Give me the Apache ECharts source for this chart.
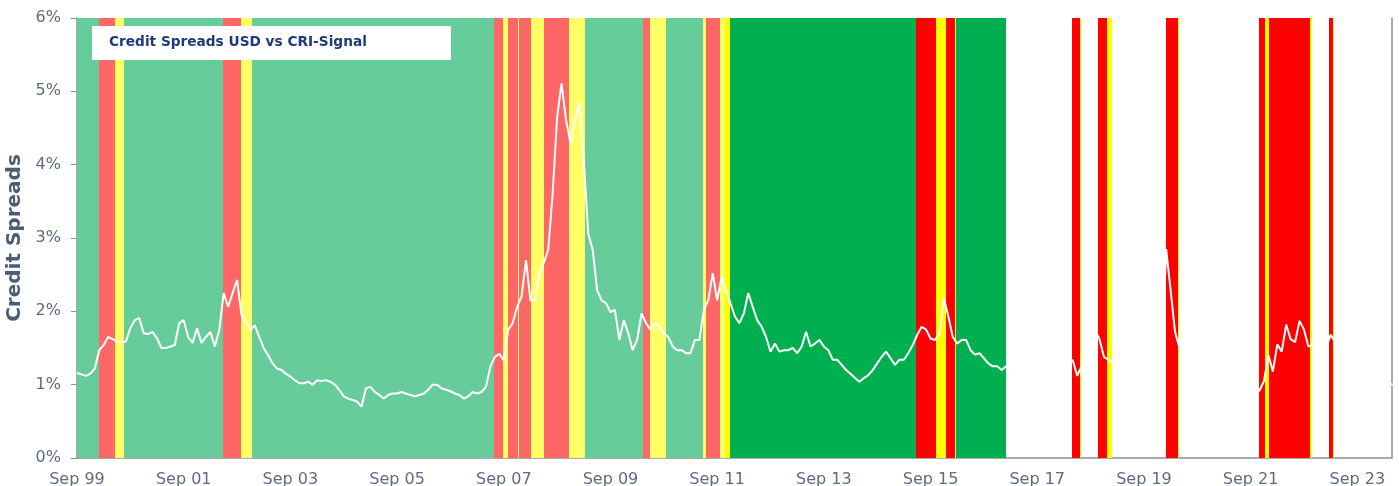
<!DOCTYPE html>
<html>
<head>
<meta charset="utf-8">
<script src="https://cdn.jsdelivr.net/npm/echarts@6/dist/echarts.min.js"></script>
<style>
html,body{margin:0;padding:0;background:#fff;}
#chart{width:1399px;height:486px;}
</style>
</head>
<body>
<div id="chart"></div>
<script>
// ---- data ----
const chartTitle = 'Credit Spreads USD vs CRI-Signal';
const yAxisTitle = 'Credit Spreads';
const axisStart = '1999-09-01';
const axisEnd = '2024-04-25';
const tickLabels = ['Sep 99','Sep 01','Sep 03','Sep 05','Sep 07','Sep 09','Sep 11','Sep 13','Sep 15','Sep 17','Sep 19','Sep 21','Sep 23'];
const yTickLabels = ['0%','1%','2%','3%','4%','5%','6%'];

// monthly credit spread (%) starting Sep 1999
const spreadStartMonth = '1999-09';
const spreadMonthly = [
1.16,1.14,1.12,1.15,1.22,1.47,1.54,1.65,1.62,1.59,1.57,1.59,
1.77,1.88,1.91,1.70,1.69,1.72,1.63,1.50,1.50,1.52,1.54,1.84,
1.88,1.65,1.57,1.77,1.57,1.65,1.72,1.52,1.75,2.25,2.06,2.25,
2.43,1.95,1.86,1.75,1.81,1.65,1.50,1.40,1.29,1.22,1.20,1.15,
1.11,1.06,1.02,1.02,1.04,1.00,1.06,1.05,1.06,1.04,1.00,0.93,
0.84,0.81,0.79,0.77,0.70,0.95,0.97,0.90,0.86,0.81,0.86,0.88,
0.88,0.90,0.88,0.86,0.84,0.86,0.88,0.93,1.00,1.00,0.95,0.93,
0.91,0.88,0.86,0.81,0.84,0.90,0.88,0.90,0.97,1.25,1.38,1.42,
1.33,1.75,1.84,2.06,2.20,2.70,2.15,2.15,2.52,2.66,2.84,3.61,
4.65,5.11,4.61,4.29,4.61,4.84,4.06,3.06,2.84,2.29,2.15,2.11,
1.99,2.02,1.61,1.88,1.70,1.47,1.61,1.97,1.84,1.75,1.84,1.79,
1.70,1.65,1.52,1.47,1.47,1.43,1.43,1.61,1.61,2.02,2.15,2.52,
2.15,2.47,2.29,2.11,1.93,1.84,1.97,2.25,2.06,1.88,1.79,1.65,
1.45,1.56,1.45,1.47,1.47,1.50,1.43,1.52,1.72,1.52,1.56,1.61,
1.52,1.47,1.34,1.34,1.27,1.20,1.15,1.09,1.04,1.09,1.13,1.20,
1.29,1.38,1.45,1.36,1.27,1.34,1.34,1.43,1.54,1.68,1.79,1.75,
1.63,1.61,1.70,2.18,1.93,1.65,1.56,1.61,1.61,1.47,1.41,1.43,
1.36,1.29,1.25,1.25,1.20,1.25,1.22,1.18,1.15,1.12,1.10,1.08,
1.06,1.05,1.08,1.10,1.15,1.22,1.30,1.35,1.33,1.12,1.26,1.30,
1.45,1.75,1.62,1.38,1.34,1.30,1.25,1.22,1.20,1.22,1.18,1.15,
1.15,1.12,1.10,1.10,1.30,2.85,2.29,1.72,1.50,1.45,1.40,1.35,
1.30,1.25,1.20,1.15,1.10,1.05,1.00,0.98,0.96,0.94,0.92,0.90,
0.90,0.90,0.92,1.05,1.40,1.18,1.55,1.45,1.82,1.62,1.58,1.87,
1.75,1.52,1.55,1.52,1.50,1.52,1.68,1.58,1.50,1.40,1.30,1.25,
1.20,1.15,1.12,1.10,1.08,1.06,1.04,1.02,1.00
];

// CRI signal: change dates and signal from that date on (G green, R red, Y yellow, N none)
const signalDates = [
'1999-09-01','2000-01-29','2000-05-18','2000-07-21','2002-05-29','2002-09-27','2002-12-10',
'2007-06-25','2007-08-27','2007-09-27','2007-12-08','2007-12-13','2008-03-05','2008-06-04',
'2008-11-20','2009-03-06','2010-04-08','2010-05-28','2010-09-15','2011-05-24','2011-06-16',
'2011-09-20','2011-10-24','2011-11-27','2015-05-21','2015-10-07','2015-12-14','2016-02-14',
'2016-02-21','2017-01-29','2018-04-27','2018-06-21','2018-06-26','2018-10-21','2018-12-23',
'2019-01-29','2020-02-03','2020-04-20','2020-04-27','2021-10-29','2021-12-11','2022-01-08',
'2022-10-11','2022-10-24','2023-02-18','2023-03-18','2023-03-25'
];
const signalValues = [
'G','R','Y','G','R','Y','G',
'R','Y','R','Y','R','Y','R',
'Y','G','R','Y','G','Y','R',
'Y','Y','G','R','Y','R','Y',
'G','N','R','Y','N','R','Y',
'N','R','Y','N','R','Y','R',
'Y','N','R','Y','N'
];
const paletteSwitchDate = '2011-10-24';
const paletteOld = {G:'#66CC99', R:'#FF6666', Y:'#FFFF66'};
const paletteNew = {G:'#00B050', R:'#FF0000', Y:'#FFFF00'};

// ---- helpers ----
function daysIn(y, m) { return new Date(y, m, 0).getDate(); }
function toM(s) {
  const p = s.split('-').map(Number);
  const d = p.length > 2 ? p[2] : 1;
  return (p[0] - 1999) * 12 + (p[1] - 9) + (d - 1) / daysIn(p[0], p[1]);
}
const mMin = toM(axisStart);
const mMax = toM(axisEnd);
const startM = toM(spreadStartMonth);
const lineData = spreadMonthly.map((v, i) => [startM + i, v]);

const switchM = toM(paletteSwitchDate);
const bandData = [];
const bandColors = [];
for (let i = 0; i < signalDates.length; i++) {
  const s = signalValues[i];
  if (s === 'N') continue;
  const a = toM(signalDates[i]);
  const b = i + 1 < signalDates.length ? toM(signalDates[i + 1]) : mMax;
  const pal = a < switchM - 1e-9 ? paletteOld : paletteNew;
  bandColors.push(pal[s]);
  bandData.push([a, b, bandColors.length - 1]);
}

const labelColor = '#5E6B84';
const axisColor = '#8E8E8E';

const chart = echarts.init(document.getElementById('chart'), null, {renderer: 'canvas'});
chart.setOption({
  animation: false,
  backgroundColor: '#ffffff',
  grid: {left: 77, right: 7, top: 18, bottom: 28, containLabel: false, outerBoundsMode: 'none'},
  xAxis: {
    type: 'value', min: mMin, max: mMax, interval: 24,
    axisLine: {show: true, lineStyle: {color: axisColor, width: 1.5}},
    axisTick: {show: false},
    splitLine: {show: false},
    axisLabel: {
      color: labelColor, fontFamily: 'DejaVu Sans', fontSize: 16, margin: 14,
      formatter: function (v) {
        const k = (v - mMin) / 24;
        if (Math.abs(k - Math.round(k)) < 1e-6 && tickLabels[Math.round(k)] !== undefined) return tickLabels[Math.round(k)];
        return '';
      }
    }
  },
  yAxis: [{
    type: 'value', min: 0, max: 6, interval: 1,
    name: yAxisTitle, nameLocation: 'middle', nameGap: 50,
    nameTextStyle: {color: '#4C5B78', fontFamily: 'DejaVu Sans', fontWeight: 'bold', fontSize: 20},
    axisLine: {show: true, lineStyle: {color: axisColor, width: 1.5}},
    axisTick: {show: true, length: 6, lineStyle: {color: axisColor}},
    splitLine: {show: false},
    axisLabel: {color: labelColor, fontFamily: 'DejaVu Sans', fontSize: 16, margin: 16,
      formatter: function (v) { return yTickLabels[Math.round(v)] || ''; }}
  }, {
    type: 'value', min: 0, max: 6, position: 'right',
    axisLine: {show: true, lineStyle: {color: axisColor, width: 1.5}},
    axisTick: {show: false}, axisLabel: {show: false}, splitLine: {show: false}
  }],
  series: [{
    type: 'custom',
    z: 1,
    clip: true,
    encode: {x: [0, 1]},
    data: bandData,
    renderItem: function (params, api) {
      const p0 = api.coord([api.value(0), 6]);
      const p1 = api.coord([api.value(1), 0]);
      const x0 = Math.round(p0[0]);
      let x1 = Math.round(p1[0]);
      if (x1 <= x0) x1 = x0 + 1;
      return {
        type: 'rect',
        shape: {x: x0, y: p0[1], width: x1 - x0, height: p1[1] - p0[1]},
        style: {fill: bandColors[api.value(2)]}
      };
    }
  }, {
    type: 'line',
    z: 3,
    data: lineData,
    showSymbol: false,
    symbol: 'none',
    clip: true,
    lineStyle: {color: '#ffffff', width: 2},
    itemStyle: {color: '#ffffff'}
  }],
  graphic: [{
    type: 'rect', left: 92, top: 26, z: 10,
    shape: {width: 359, height: 34},
    style: {fill: '#ffffff'}
  }, {
    type: 'text', left: 109, top: 35, z: 11,
    style: {text: chartTitle, fill: '#1F3A7A', font: 'bold 13.7px "DejaVu Sans"'}
  }]
});
</script>
</body>
</html>
